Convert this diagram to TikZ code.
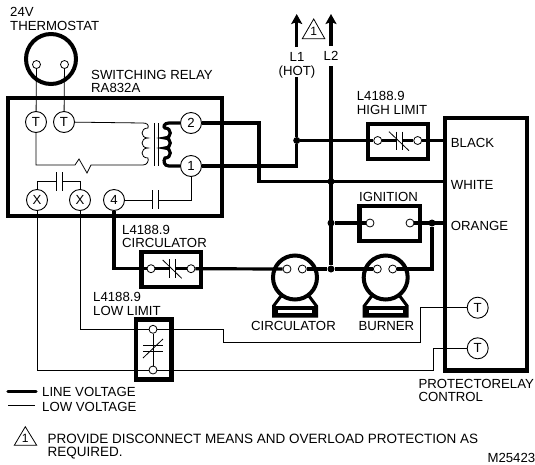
\documentclass[tikz,border=0pt]{standalone}
\usepackage{fontspec}
\setmainfont{Liberation Sans}
\usetikzlibrary{arrows.meta}
\tikzset{
  label text/.style={anchor=base west, inner sep=0pt, align=left, font=\fontsize{13.2}{13.6}\selectfont},
  line wire/.style={line width=3.2pt},
  low wire/.style={line width=0.8pt},
  heavy box/.style={line width=4.6pt},
  terminal/.style={circle, draw, fill=white, line width=0.9pt, minimum size=21pt, inner sep=0pt, font=\fontsize{13.2}{13}\selectfont},
  contact/.style={circle, draw, fill=white, line width=0.8pt, minimum size=8pt, inner sep=0pt},
  junction/.style={circle, fill=black, minimum size=7pt, inner sep=0pt},
  motor/.style={circle, draw, fill=white, line width=4pt, minimum size=44pt, inner sep=0pt},
  warn/.style={draw, line width=0.8pt, line join=miter}
}
\begin{document}
\begin{tikzpicture}[x=1pt, y=-1pt]
\useasboundingbox (0, 0) rectangle (535, 464);

% Boxes
\draw[heavy box] (8, 98) rectangle (222, 216);
\draw[heavy box] (368, 124) rectangle (428, 159);
\draw[heavy box] (359.7, 206) rectangle (420, 241);
\draw[heavy box] (141.5, 252) rectangle (201, 287);
\draw[heavy box] (136, 319.7) rectangle (171.7, 379.7);
\draw[heavy box] (445, 118) rectangle (527, 370.7);

% Motors
\foreach \cx in {295, 385.7} {
  \draw[line width=3pt, fill=white] (\cx-14, 296) -- (\cx-21.5, 306) -- (\cx-21.5, 316) -- (\cx+21.5, 316) -- (\cx+21.5, 306) -- (\cx+14, 296);
  \fill (\cx-21.5, 306) rectangle (\cx+21.5, 316);
  \fill[white] (\cx-17, 310) rectangle (\cx+17, 312.8);
}
\node[motor] (circulatorm) at (295, 277.5) {};
\node[motor] (burnerm) at (385.7, 277.5) {};
\node[motor, minimum size=50pt] (thermostat) at (51, 59) {};

% Terminals and contacts
\node[contact] (thermoa) at (36.5, 64.5) {};
\node[contact] (thermob) at (64.5, 64.5) {};
\node[terminal] (ta) at (36, 122) {T};
\node[terminal] (tb) at (64, 122) {T};
\node[terminal] (two) at (191, 123) {2};
\node[terminal] (one) at (191, 166) {1};
\node[terminal] (xa) at (37, 200) {X};
\node[terminal] (xb) at (80, 200) {X};
\node[terminal] (four) at (114, 200) {4};
\node[terminal] (tc) at (477.7, 307.7) {T};
\node[terminal] (td) at (477.7, 348.3) {T};
\node[contact] (higha) at (377.7, 140.5) {};
\node[contact] (highb) at (417.7, 140.5) {};
\node[contact] (igna) at (370, 223) {};
\node[contact] (ignb) at (410, 223) {};
\node[contact] (circa) at (151, 268.7) {};
\node[contact] (circb) at (191, 268.7) {};
\node[contact] (lowa) at (153, 329.3) {};
\node[contact] (lowb) at (153, 370) {};
\node[contact] (mca) at (287, 269) {};
\node[contact] (mcb) at (302.3, 269) {};
\node[contact] (mba) at (377.3, 269) {};
\node[contact] (mbb) at (392.7, 269) {};

% Junctions
\node[junction] (jhot) at (296.7, 140.5) {};
\node[junction] (jwhite) at (331, 181.5) {};
\node[junction] (jign) at (331, 223) {};
\node[junction] (jmotor) at (331, 269) {};
\node[junction] (jorange) at (432, 223) {};

% Free ends
\coordinate (black) at (445, 140.5);
\coordinate (white) at (445, 181.5);
\coordinate (orange) at (445, 223);
\coordinate (hotbreak) at (296.7, 77);
\coordinate (hotup) at (296.7, 47);
\coordinate (hottip) at (296.7, 14);
\coordinate (ltwobreak) at (331, 66);
\coordinate (ltwoup) at (331, 46);
\coordinate (ltwotip) at (331, 14);

% Line voltage wires
\draw[line wire] (two) -- (259, 123) -- (259, 181.5) -- (white);
\draw[line wire] (one) -- (296.7, 166) -- (jhot) -- (hotbreak);
\draw[line wire, -{Stealth[length=10pt, width=11pt, inset=2pt]}] (hotup) -- (hottip);
\draw[line wire, -{Stealth[length=10pt, width=11pt, inset=2pt]}] (ltwoup) -- (ltwotip);
\draw[line wire] (ltwobreak) -- (jmotor);
\draw[line wire] (jhot) -- (higha);
\draw[line wire] (highb) -- (black);
\draw[line wire] (higha) -- (396.7, 140.5);
\draw[line wire] (402, 140.5) -- (highb);
\draw[line wire] (jign) -- (igna);
\draw[line wire] (ignb) -- (orange);
\draw[line wire] (jorange) |- (mbb);
\draw[line wire] (four) |- (circa);
\draw[line wire] (circa) -- (169.3, 268.7);
\draw[line wire] (175.3, 268.7) -- (circb);
\draw[line wire] (circb) -- (mca);
\draw[line wire] (mcb) -- (jmotor);
\draw[line wire] (jmotor) -- (mba);

% Relay coil, line side
\draw[line wire] (two) -- (169, 123) .. controls (164, 123) and (163, 127) .. (165, 128)
  .. controls (172, 128) and (172, 138) .. (165, 138)
  .. controls (172, 138) and (172, 148) .. (165, 148)
  .. controls (172, 148) and (172, 158) .. (165, 158)
  .. controls (163, 161) and (164, 166) .. (169, 166) -- (one);

% Relay coil, low side
\draw[low wire] (tb) -- (143, 123) .. controls (147, 123) and (149, 125) .. (148, 128)
  .. controls (140, 128) and (140, 138) .. (148, 138)
  .. controls (140, 138) and (140, 148) .. (148, 148)
  .. controls (140, 148) and (140, 158) .. (148, 158)
  .. controls (149, 161) and (147, 165) .. (143, 165) -- (91, 165) -- (87, 173) -- (79, 159) -- (75, 165) -- (36, 165) -- (ta);
\draw[low wire] (154, 123) -- (154, 166);
\draw[low wire] (158, 123) -- (158, 166);

% Low voltage wires
\draw[low wire] (thermoa) -- (ta);
\draw[low wire] (thermob) -- (tb);
\draw[low wire] (xa.north) |- (56, 181);
\draw[low wire] (xb.north) |- (62, 181);
\draw[low wire] (56, 172) -- (56, 191);
\draw[low wire] (62, 172) -- (62, 191);
\draw[low wire] (four) -- (152.5, 200);
\draw[low wire] (152.5, 190) -- (152.5, 209);
\draw[low wire] (158, 190) -- (158, 209);
\draw[low wire] (158, 200) -| (one);
\draw[low wire] (xb) |- (lowa);
\draw[low wire] (xa) |- (lowb);
\draw[low wire] (lowa) -- (223, 329.3) -- (223, 342.7) -- (420, 342.7) |- (tc);
\draw[low wire] (lowb) -- (433.3, 370) |- (td);
\draw[low wire] (lowa) -- (lowb);

% Contact symbols
\draw[low wire] (396.7, 131.7) -- (396.7, 150);
\draw[low wire] (402, 131.7) -- (402, 150);
\draw[low wire] (389, 131.7) -- (409, 150.7);
\draw[low wire] (169.3, 259.3) -- (169.3, 278.3);
\draw[low wire] (175.3, 259.3) -- (175.3, 278.3);
\draw[low wire] (162.7, 260) -- (181.7, 278.3);
\draw[low wire] (143, 345) -- (163, 345);
\draw[low wire] (143, 351.7) -- (163, 351.7);
\draw[low wire] (143, 358) -- (163, 339);

% Warning triangles
\draw[warn] (313.7, 19) -- (302.3, 38.7) -- (324.8, 38.7) -- cycle;
\node[inner sep=0pt, font=\fontsize{12}{12}\selectfont] (warnup) at (313.7, 31) {1};
\draw[warn] (25.3, 426.7) -- (14.3, 445.3) -- (36.7, 445.3) -- cycle;
\node[inner sep=0pt, font=\fontsize{12}{12}\selectfont] (warnnote) at (25.3, 438.5) {1};

% Labels
\node[label text] (lthermo) at (10, 30) {24V\\THERMOSTAT};
\node[label text] (lrelay) at (91, 92.7) {SWITCHING RELAY\\RA832A};
\node[label text, align=center, anchor=base] (lone) at (297, 75) {L1\\(HOT)};
\node[label text, anchor=base] (ltwo) at (331, 60.5) {L2};
\node[label text] (lhigh) at (356.7, 114) {L4188.9\\HIGH LIMIT};
\node[label text] (lblack) at (450.7, 147) {BLACK};
\node[label text] (lwhite) at (450.7, 189) {WHITE};
\node[label text] (lorange) at (450.7, 230) {ORANGE};
\node[label text] (lign) at (359, 201.7) {IGNITION};
\node[label text] (lcirc) at (122, 247.7) {L4188.9\\CIRCULATOR};
\node[label text] (llow) at (93, 315) {L4188.9\\LOW LIMIT};
\node[label text] (lcircm) at (251, 330) {CIRCULATOR};
\node[label text] (lburner) at (358.3, 330) {BURNER};
\node[label text] (lprot) at (418.3, 401.7) {PROTECTORELAY\\CONTROL};

% Legend
\coordinate (legaa) at (8, 391.7);
\coordinate (legab) at (36, 391.7);
\coordinate (legba) at (8, 405.7);
\coordinate (legbb) at (35, 405.7);
\draw[line wire, line cap=round] (legaa) -- (legab);
\draw[low wire] (legba) -- (legbb);
\node[label text] (lline) at (42, 396.7) {LINE VOLTAGE};
\node[label text] (llowv) at (42, 411) {LOW VOLTAGE};
\node[label text, font=\fontsize{13.5}{12.7}\selectfont] (lnote) at (47.5, 456) {PROVIDE DISCONNECT MEANS AND OVERLOAD PROTECTION AS\\REQUIRED.};
\node[label text] (lcode) at (487.3, 462.7) {M25423};
\end{tikzpicture}
\end{document}
